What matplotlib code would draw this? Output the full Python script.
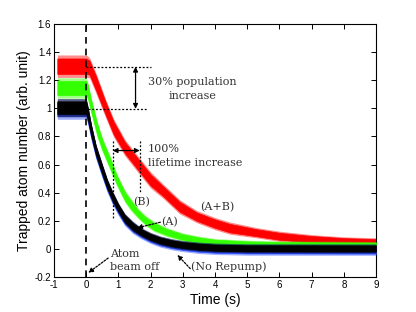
import matplotlib
matplotlib.use("Agg")
import matplotlib.pyplot as plt
import numpy as np

# ---- data ----
t_red = [-0.9, 0.0, 0.1, 0.3, 0.6, 0.85, 1.2, 1.58, 2.0, 2.39, 2.9, 3.43, 4.0, 4.46, 5.3, 6.0, 7.0, 8.0, 9.0]
y_red = [1.30, 1.30, 1.29, 1.18, 1.00, 0.86, 0.72, 0.61, 0.49, 0.41, 0.30, 0.23, 0.18, 0.148, 0.115, 0.09, 0.07, 0.057, 0.05]
n_red = [0.055, 0.055, 0.05, 0.05, 0.045, 0.045, 0.04, 0.04, 0.04, 0.035, 0.035, 0.03, 0.03, 0.03, 0.025, 0.025, 0.022, 0.02, 0.02]

t_green = [-0.9, 0.0, 0.05, 0.15, 0.34, 0.5, 0.74, 0.95, 1.21, 1.4, 1.62, 1.85, 2.1, 2.5, 3.0, 3.5, 4.0, 5.0, 6.0, 9.0]
y_green = [1.145, 1.145, 1.12, 1.02, 0.85, 0.74, 0.61, 0.49, 0.37, 0.31, 0.25, 0.20, 0.16, 0.12, 0.085, 0.062, 0.048, 0.036, 0.031, 0.027]
n_green = [0.05, 0.05, 0.045, 0.04, 0.04, 0.035, 0.035, 0.03, 0.03, 0.03, 0.025, 0.025, 0.025, 0.022, 0.02, 0.02, 0.018, 0.018, 0.018, 0.018]

t_black = [-0.9, 0.0, 0.05, 0.15, 0.3, 0.5, 0.65, 0.82, 1.0, 1.2, 1.45, 1.7, 2.0, 2.3, 2.67, 3.0, 3.5, 4.0, 5.0, 9.0]
y_black = [1.005, 1.005, 0.96, 0.845, 0.70, 0.56, 0.46, 0.37, 0.29, 0.215, 0.16, 0.12, 0.085, 0.06, 0.04, 0.028, 0.016, 0.009, 0.004, 0.003]
n_black = [0.045, 0.045, 0.04, 0.035, 0.03, 0.03, 0.028, 0.028, 0.025, 0.025, 0.025, 0.022, 0.022, 0.022, 0.022, 0.022, 0.022, 0.022, 0.022, 0.022]

t_blue = t_black
y_blue = [0.995, 0.995, 0.95, 0.835, 0.69, 0.55, 0.45, 0.36, 0.28, 0.207, 0.152, 0.112, 0.077, 0.052, 0.032, 0.02, 0.008, 0.001, -0.004, -0.005]
n_blue = [0.05, 0.05, 0.045, 0.04, 0.035, 0.034, 0.032, 0.032, 0.03, 0.03, 0.03, 0.027, 0.027, 0.027, 0.027, 0.027, 0.028, 0.028, 0.028, 0.028]

x_ticks = [-1, 0, 1, 2, 3, 4, 5, 6, 7, 8, 9]
y_ticks = [-0.2, 0.0, 0.2, 0.4, 0.6, 0.8, 1.0, 1.2, 1.4, 1.6]
y_tick_labels = ["-0.2", "0", "0.2", "0.4", "0.6", "0.8", "1", "1.2", "1.4", "1.6"]

# ---- figure ----
fig = plt.figure(figsize=(4.16, 3.12), dpi=100)
ax = fig.add_axes([0.13, 0.112, 0.774, 0.811])

def band(t, y, n, color, z):
    t = np.asarray(t); y = np.asarray(y); n = np.asarray(n)
    # faint outer layer for the noise spikes, solid inner body
    ax.fill_between(t, y - 1.45 * n, y + 1.45 * n, color=color, lw=0, alpha=0.45, zorder=z)
    ax.fill_between(t, y - n, y + n, color=color, lw=0.5, edgecolor=color, zorder=z + 0.5)

band(t_red, y_red, n_red, "#ff0000", 2)
band(t_green, y_green, n_green, "#33ff00", 3)
band(t_blue, y_blue, n_blue, "#2a4cff", 4)
band(t_black, y_black, n_black, "#000000", 5)

ax.set_xlim(-1, 9)
ax.set_ylim(-0.2, 1.6)
ax.set_xticks(x_ticks)
ax.set_xticklabels([str(v) for v in x_ticks])
ax.set_yticks(y_ticks)
ax.set_yticklabels(y_tick_labels)
ax.tick_params(direction="in", top=True, right=True, length=3.5, width=0.7,
               labelsize=7, pad=2)
for lab in ax.get_xticklabels() + ax.get_yticklabels():
    lab.set_family("Liberation Sans")
for s in ax.spines.values():
    s.set_linewidth(0.8)

ax.set_xlabel("Time (s)", family="Liberation Sans", fontsize=10, labelpad=2)
ax.set_ylabel("Trapped atom number (arb. unit)", family="Liberation Sans", fontsize=10, labelpad=3)

# dashed vertical line at t=0
ax.axvline(0, color="black", lw=1.2, ls=(0, (4, 3)), zorder=6)

serif = dict(family="DejaVu Serif", fontsize=8, color="#333333")
dot = (0, (1.5, 1.5))
head = dict(color="black", lw=0.9, mutation_scale=7, shrinkA=0, shrinkB=0)

# 30% population increase
ax.plot([0.0, 2.0], [1.296, 1.296], color="black", lw=0.9, ls=dot, zorder=7)
ax.plot([0.05, 1.9], [0.997, 0.997], color="black", lw=0.9, ls=dot, zorder=7)
ax.annotate("", xy=(1.53, 0.997), xytext=(1.53, 1.296),
            arrowprops=dict(arrowstyle="<|-|>", **head), zorder=8)
ax.text(3.3, 1.19, "30% population", ha="center", va="center", **serif)
ax.text(3.3, 1.085, "increase", ha="center", va="center", **serif)

# 100% lifetime increase
ax.plot([0.82, 0.82], [0.77, 0.22], color="black", lw=0.9, ls=dot, zorder=7)
ax.plot([1.66, 1.66], [0.77, 0.405], color="black", lw=0.9, ls=dot, zorder=7)
ax.annotate("", xy=(0.82, 0.70), xytext=(1.66, 0.70),
            arrowprops=dict(arrowstyle="<|-|>", **head), zorder=8)
ax.text(1.92, 0.71, "100%", ha="left", va="center", **serif)
ax.text(1.92, 0.61, "lifetime increase", ha="left", va="center", **serif)

# labels
ax.text(1.73, 0.33, "(B)", ha="center", va="center", **serif)
ax.text(4.07, 0.30, "(A+B)", ha="center", va="center", **serif)
ax.text(2.32, 0.19, "(A)", ha="left", va="center", **serif)
ax.annotate("", xy=(1.58, 0.15), xytext=(2.3, 0.19),
            arrowprops=dict(arrowstyle="-|>", ls=(0, (1.5, 1.2)), **head), zorder=8)
ax.text(3.25, -0.125, "(No Repump)", ha="left", va="center", **serif)
ax.annotate("", xy=(2.83, -0.043), xytext=(3.23, -0.14),
            arrowprops=dict(arrowstyle="-|>", ls=(0, (1.5, 1.2)), **head), zorder=8)
ax.text(0.74, -0.035, "Atom", ha="left", va="center", **serif)
ax.text(0.74, -0.125, "beam off", ha="left", va="center", **serif)
ax.annotate("", xy=(0.06, -0.17), xytext=(0.68, -0.065),
            arrowprops=dict(arrowstyle="-|>", ls=(0, (1.5, 1.2)), **head), zorder=8)

fig.savefig("out.png", dpi=100)
